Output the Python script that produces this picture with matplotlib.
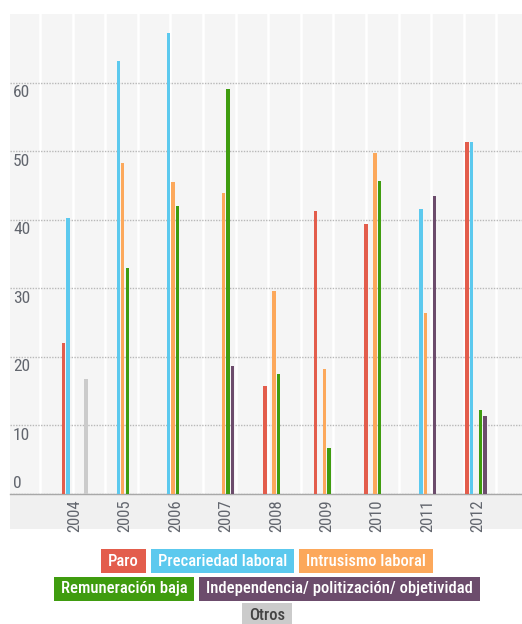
import matplotlib
matplotlib.use("Agg")
import matplotlib.pyplot as plt
import matplotlib.transforms as mtransforms
from matplotlib import font_manager
from matplotlib.patches import Rectangle
from matplotlib.ticker import MultipleLocator
import numpy as np

# ---------------- data ----------------
years = ["2004", "2005", "2006", "2007", "2008", "2009", "2010", "2011", "2012"]
series_names = ["Paro", "Precariedad laboral", "Intrusismo laboral",
                "Remuneración baja", "Independencia/ politización/ objetividad", "Otros"]
paro          = [22.0, 0, 0, 0, 15.7, 41.2, 39.4, 0, 51.4]
precariedad   = [40.3, 63.2, 67.2, 0, 0, 0, 0, 41.6, 51.4]
intrusismo    = [0, 48.3, 45.5, 43.9, 29.6, 18.3, 49.8, 26.4, 0]
remuneracion  = [0, 33.0, 42.0, 59.1, 17.5, 6.7, 45.7, 0, 12.2]
independencia = [0, 0, 0, 18.6, 0, 0, 0, 43.5, 11.4]
otros         = [16.8, 0, 0, 0, 0, 0, 0, 0, 0]
y_ticks = [0, 10, 20, 30, 40, 50, 60]
legend_rows = [[0, 1, 2], [3, 4], [5]]

values = [paro, precariedad, intrusismo, remuneracion, independencia, otros]
colors = ["#e35d4c", "#5cc9ee", "#fca85b", "#3f9c0f", "#6c4c6c", "#cbcbcb"]
legend_text_colors = ["white", "white", "white", "white", "white", "#444444"]

# ---------------- font ----------------
available = {f.name for f in font_manager.fontManager.ttflist}
font = "DejaVu Sans"
for cand in ["Ubuntu Condensed", "Liberation Sans Narrow", "Roboto Condensed",
             "DejaVu Sans Condensed", "Roboto"]:
    if cand in available:
        font = cand
        break
plt.rcParams["font.family"] = [font, "DejaVu Sans"]

W, H = 522, 624
fig = plt.figure(figsize=(W / 100, H / 100), dpi=100)
fig.patch.set_facecolor("white")

ax_left, ax_right, ax_top, ax_bottom = 10, 522, 14, 494
ax = fig.add_axes([ax_left / W, 1 - ax_bottom / H,
                   (ax_right - ax_left) / W, (ax_bottom - ax_top) / H])
ax.set_facecolor("#f5f5f5")

# grey band under x axis
band = Rectangle((ax_left / W, 1 - 529 / H), (ax_right - ax_left) / W, 35 / H,
                 transform=fig.transFigure, facecolor="#f0f0f0", edgecolor="none",
                 zorder=-1)
fig.patches.append(band)

x = np.arange(len(years))
n = len(values)
slot = 0.089
bw = 0.068
for k, (vals, c) in enumerate(zip(values, colors)):
    ax.bar(x + (k - (n - 1) / 2) * slot, vals, width=bw, color=c,
           edgecolor="none", zorder=3)

ax.set_xlim(-1.28, 8.87)
ax.set_ylim(0, 70)

# background stripes (minor vertical grid)
ax.xaxis.set_minor_locator(MultipleLocator(0.646, offset=0.608))
ax.grid(True, which="minor", axis="x", color="white", lw=1.8, zorder=0)
ax.tick_params(axis="x", which="minor", length=0)

# horizontal gridlines
ax.set_yticks(y_ticks)
ax.yaxis.grid(True, color="#b8b8b8", lw=1.0, linestyle=(0, (1, 1)), zorder=1)
ax.tick_params(axis="y", length=0, labelleft=False)

# y labels inside the axes
base = ax.get_yaxis_transform()
for v in y_ticks:
    dy = 10 if v == 0 else -10
    tr = mtransforms.offset_copy(base, fig=fig, x=3, y=dy, units="dots")
    ax.text(0, v, str(v), transform=tr, ha="left", va="center",
            fontsize=12.5, color="#62666e", zorder=4)

ax.set_xticks(x)
ax.set_xticklabels(years, rotation=90, fontsize=12, color="#62666e")
ax.tick_params(axis="x", which="major", length=0, pad=4)

for s in ["top", "right", "left"]:
    ax.spines[s].set_visible(False)
ax.spines["bottom"].set_color("#a8a8a8")
ax.spines["bottom"].set_linewidth(1.0)

# ---------------- legend ----------------
renderer = fig.canvas.get_renderer()
probe = fig.text(0, 0, series_names[1], fontsize=12, fontweight="medium")
w_probe = probe.get_window_extent(renderer).width
probe.remove()
fs = 12 * 129.0 / w_probe

pad = 7
gap = 5
row_centers = [561, 589, 615]
box_h = 24
center_x = 267
for r, row in enumerate(legend_rows):
    widths = []
    for i in row:
        t = fig.text(0, 0, series_names[i], fontsize=fs, fontweight="medium")
        widths.append(t.get_window_extent(renderer).width + 2 * pad)
        t.remove()
    total = sum(widths) + gap * (len(row) - 1)
    xs = center_x - total / 2
    yc = row_centers[r]
    for i, w in zip(row, widths):
        rect = Rectangle((xs / W, 1 - (yc + box_h / 2) / H), w / W, box_h / H,
                         transform=fig.transFigure, facecolor=colors[i],
                         edgecolor="none")
        fig.patches.append(rect)
        fig.text((xs + w / 2) / W, 1 - yc / H, series_names[i], fontsize=fs,
                 fontweight="medium", color=legend_text_colors[i],
                 ha="center", va="center")
        xs += w + gap

fig.savefig("out.png", dpi=100)
